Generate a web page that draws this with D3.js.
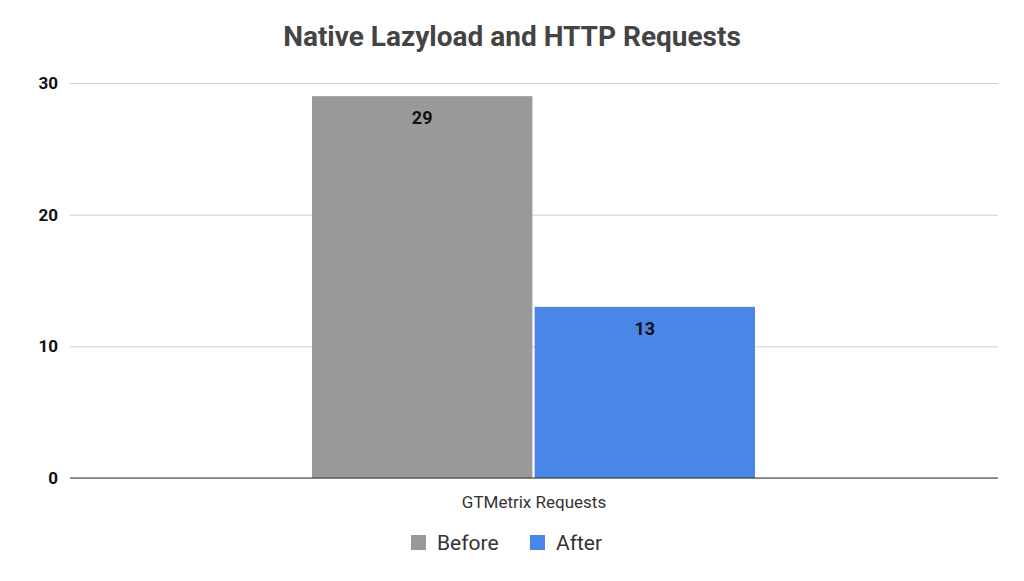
<!DOCTYPE html><html><head><meta charset="utf-8">
<script src="https://cdn.jsdelivr.net/npm/d3@7"></script>
<style>body{margin:0;background:#fff}text{font-family:Roboto,sans-serif}</style></head><body>
<svg id="c" width="1024" height="581"></svg>
<script>
const categories=["GTMetrix Requests"];
const seriesNames=["Before","After"];
const seriesValues=[[29],[13]];
const colors=["#999999","#4a86e8"];
const yTicks=[0,10,20,30];
const svg=d3.select("#c");
const L=70,R=998,T=83,B=478;
const y=d3.scaleLinear().domain([0,30]).range([B,T]);
const x0=d3.scaleBand().domain(categories).range([L,R]).paddingInner(0).paddingOuter(0.26);
const x1=d3.scaleBand().domain(seriesNames).range([312-x0(categories[0]),755-x0(categories[0])]).paddingInner(0.01);
svg.append("text").attr("x",512).attr("y",46).attr("text-anchor","middle").attr("font-size",28).attr("font-weight","bold").attr("fill","#444").text("Native Lazyload and HTTP Requests");
const ga=svg.append("g").attr("transform",`translate(${L},0)`).call(d3.axisLeft(y).tickValues(yTicks).tickSize(-(R-L)).tickFormat(d3.format("d")));
ga.select(".domain").remove();
ga.selectAll(".tick line").attr("stroke","#d0d0d0");
ga.selectAll(".tick text").attr("x",-12).attr("font-size",17).attr("font-weight","bold").attr("fill","#111");
categories.forEach((c,ci)=>{
 seriesNames.forEach((s,si)=>{
  const v=seriesValues[si][ci];const bx=x0(c)+x1(s);
  svg.append("rect").attr("x",bx).attr("y",y(v)).attr("width",x1.bandwidth()).attr("height",B-y(v)).attr("fill",colors[si]);
  svg.append("text").attr("x",bx+x1.bandwidth()/2).attr("y",y(v)+28).attr("text-anchor","middle").attr("font-size",18).attr("font-weight","bold").attr("fill","#111").text(v);
 });
});
svg.append("line").attr("x1",L).attr("x2",R).attr("y1",B).attr("y2",B).attr("stroke","#333");
const gx=svg.append("g").attr("transform",`translate(0,${B})`).call(d3.axisBottom(x0).tickSize(0));
gx.select(".domain").remove();
gx.selectAll("text").attr("dy","1.6em").attr("font-size",17).attr("fill","#333");
const lg=[{n:"Before",x:411},{n:"After",x:530}];
lg.forEach((d,i)=>{
 svg.append("rect").attr("x",d.x).attr("y",535).attr("width",15).attr("height",15).attr("fill",colors[i]);
 svg.append("text").attr("x",d.x+26).attr("y",550).attr("font-size",21).attr("fill","#333").text(seriesNames[i]);
});
</script></body></html>
